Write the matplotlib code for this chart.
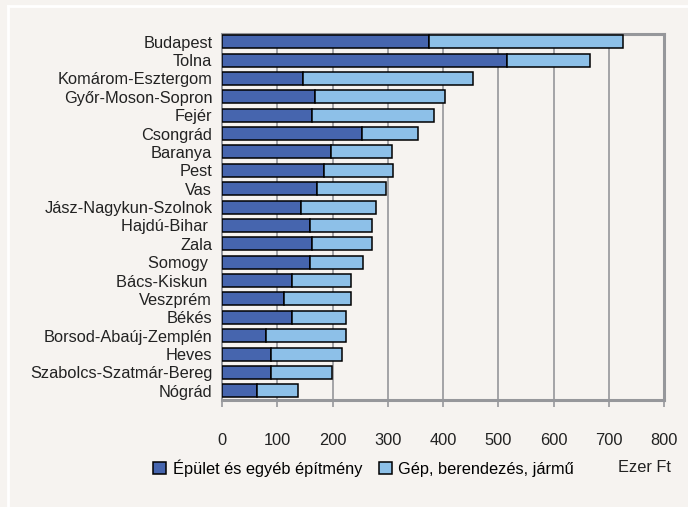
import matplotlib.pyplot as plt
from matplotlib.patches import Patch
from matplotlib.lines import Line2D

counties = ["Budapest", "Tolna", "Komárom-Esztergom", "Győr-Moson-Sopron", "Fejér",
            "Csongrád", "Baranya", "Pest", "Vas", "Jász-Nagykun-Szolnok",
            "Hajdú-Bihar ", "Zala", "Somogy ", "Bács-Kiskun ", "Veszprém",
            "Békés", "Borsod-Abaúj-Zemplén", "Heves", "Szabolcs-Szatmár-Bereg", "Nógrád"]
epulet = [375, 515, 146, 169, 162, 253, 198, 185, 172, 143,
          159, 162, 159, 127, 112, 127, 80, 89, 89, 63]
gep = [350, 151, 309, 235, 222, 102, 109, 125, 125, 135,
       113, 110, 97, 107, 122, 97, 144, 129, 110, 74]

xticks = [0, 100, 200, 300, 400, 500, 600, 700, 800]

dark = '#4665ae'
light = '#8dc0e8'
bg = '#f6f3f0'
gray = '#96979b'
fs = 11.8

plt.rcParams['font.family'] = ['Liberation Sans', 'DejaVu Sans']

fig = plt.figure(figsize=(6.88, 5.07), dpi=100, facecolor=bg)
ax = fig.add_axes([222/688, 1 - 400/507, 442/688, 366/507])
ax.set_facecolor(bg)

y = list(range(len(counties)))
ax.barh(y, epulet, height=0.71, color=dark, edgecolor='black', linewidth=1.1, zorder=3)
ax.barh(y, gep, left=epulet, height=0.71, color=light, edgecolor='black', linewidth=1.1, zorder=3)

ax.set_xlim(0, 800)
ax.set_ylim(19.5, -0.42)
ax.set_yticks(y)
ax.set_yticklabels(counties, fontsize=fs, color='#222222')
ax.tick_params(axis='y', length=0, pad=7)
ax.set_xticks(xticks)
ax.set_xticklabels([str(v) for v in xticks], fontsize=fs, color='#222222')
ax.tick_params(axis='x', direction='out', length=5, width=1.2, color=gray, pad=19)

ax.grid(axis='x', color='#a3a3a7', linewidth=1.4, zorder=0)
for s in ['top', 'right', 'bottom']:
    ax.spines[s].set_color(gray)
    ax.spines[s].set_linewidth(2.2)
ax.spines['left'].set_color(gray)
ax.spines['left'].set_linewidth(1.4)

# legend
handles = [Patch(facecolor=dark, edgecolor='black', linewidth=1.1),
           Patch(facecolor=light, edgecolor='black', linewidth=1.1)]
fig.legend(handles, ["Épület és egyéb építmény", "Gép, berendezés, jármű"],
           loc='center left', bbox_to_anchor=(153/688, 1 - 468/507), ncol=2,
           frameon=False, fontsize=fs, handlelength=0.8, handleheight=0.8,
           handletextpad=0.4, columnspacing=1.0, borderaxespad=0, borderpad=0)
fig.text(671/688, 1 - 468/507, "Ezer Ft", ha='right', va='center', fontsize=fs, color='#222222')

# white frame lines at top and left
fig.add_artist(Line2D([8/688, 8/688], [0, 1 - 6/507], color='white', linewidth=2, transform=fig.transFigure))
fig.add_artist(Line2D([8/688, 1], [1 - 6/507, 1 - 6/507], color='white', linewidth=2, transform=fig.transFigure))

fig.savefig('out.png', dpi=100, facecolor=bg)
